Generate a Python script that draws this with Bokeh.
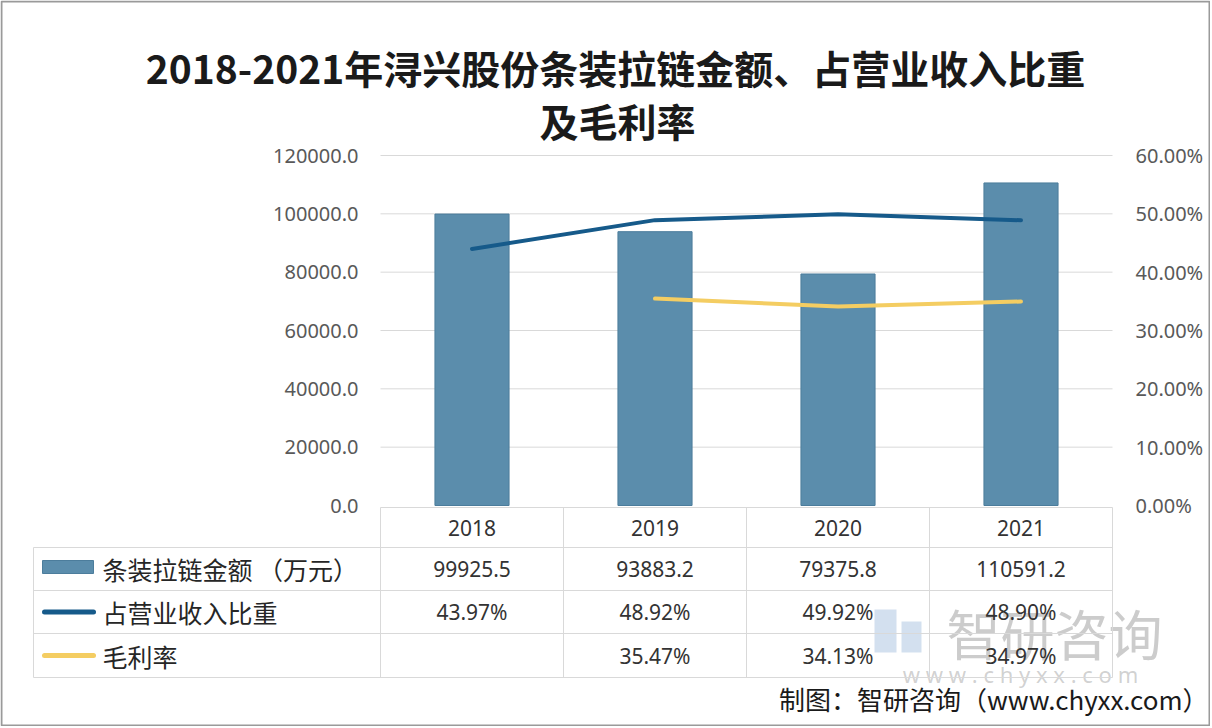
from bokeh.plotting import figure
from bokeh.models import (Range1d, LinearAxis, FixedTicker, CustomJSTickFormatter,
                          ColumnDataSource)
from bokeh.core.properties import value
from bokeh.embed import file_html
from bokeh.resources import INLINE

# ---------------- data ----------------
years = ["2018", "2019", "2020", "2021"]
amount = [99925.5, 93883.2, 79375.8, 110591.2]          # 条装拉链金额（万元）
share = [43.97, 48.92, 49.92, 48.90]                    # 占营业收入比重 (%)
margin = [float("nan"), 35.47, 34.13, 34.97]            # 毛利率 (%)
amount_txt = ["99925.5", "93883.2", "79375.8", "110591.2"]
share_txt = ["43.97%", "48.92%", "49.92%", "48.90%"]
margin_txt = ["", "35.47%", "34.13%", "34.97%"]
left_ticks = [0, 20000, 40000, 60000, 80000, 100000, 120000]
right_ticks = [0, 10, 20, 30, 40, 50, 60]
series_names = ["条装拉链金额 （万元）", "占营业收入比重", "毛利率"]
title_lines = ["2018-2021年浔兴股份条装拉链金额、占营业收入比重", "及毛利率"]
source_text = "制图：智研咨询（www.chyxx.com）"
watermark = "智研咨询"
watermark_url = "w w w . c h y x x . c o m"

# ---------------- layout (page pixels) ----------------
W, H = 1210, 726
T_L, T_R = 380, 1112            # category band (chart + table value columns)
FR_T, ZERO = 155, 505           # 120000 line, zero line
YMAX, PMAX = 120000, 60
CAT_PX = (T_R - T_L) / len(years)
UNIT = YMAX / (ZERO - FR_T)
PUNIT = PMAX / (ZERO - FR_T)


def lx(px):
    return (px - T_L) / CAT_PX


def ly(px):
    return (ZERO - px) * UNIT


BAR = "#5B8DAC"
BAR_LINE = "#4C7D9C"
BLUE = "#165A8A"
YELLOW = "#F4CD62"
GRID = "#D9D9D9"
TXT = "#333333"
CJK = "Noto Sans CJK SC"

xs = [i + 0.5 for i in range(len(years))]
src = ColumnDataSource(dict(x=xs, year=years, amount=amount, share=share, margin=margin,
                            a_txt=amount_txt, s_txt=share_txt, m_txt=margin_txt))

p = figure(width=W, height=H, output_backend="svg", toolbar_location=None,
           x_range=Range1d(lx(0), lx(W)), y_range=Range1d(ly(H), ly(0)),
           x_axis_location=None, y_axis_location="left", min_border=0,
           background_fill_color="white", border_fill_color="white")
p.outline_line_color = None
p.grid.visible = False
p.extra_y_ranges = {"pct": Range1d((ZERO - H) * PUNIT, ZERO * PUNIT)}

ax = p.yaxis[0]
ax.ticker = FixedTicker(ticks=left_ticks)
ax.formatter = CustomJSTickFormatter(code="return tick.toFixed(1);")
ax.fixed_location = 0
rax = LinearAxis(y_range_name="pct", ticker=FixedTicker(ticks=right_ticks),
                 formatter=CustomJSTickFormatter(code="return tick.toFixed(2) + '%';"),
                 fixed_location=len(years))
p.add_layout(rax, "right")
for a, so in ((ax, 22), (rax, 23)):
    a.axis_line_color = None
    a.major_tick_line_color = None
    a.minor_tick_line_color = None
    a.major_tick_in = 0
    a.major_tick_out = 0
    a.major_label_standoff = so
    a.major_label_text_font = "Noto Sans"
    a.major_label_text_font_size = "20px"
    a.major_label_text_color = "#595959"

# horizontal gridlines across the category band
grid_vals = left_ticks[1:]
p.segment(x0=[0] * len(grid_vals), x1=[len(years)] * len(grid_vals), y0=grid_vals, y1=grid_vals,
          line_color=GRID, line_width=1)

# ---------------- bars & lines ----------------
p.vbar(x="x", top="amount", bottom=0, width=0.405, source=src,
       fill_color=BAR, line_color=BAR_LINE, line_width=1)
p.line(x="x", y="share", source=src, y_range_name="pct", line_color=BLUE,
       line_width=4, line_cap="round", line_join="round")
p.line(x="x", y="margin", source=src, y_range_name="pct", line_color=YELLOW,
       line_width=4, line_cap="round", line_join="round")

# ---------------- title ----------------
p.text(x=[lx(615), lx(617)], y=[ly(66), ly(119)], text=title_lines, text_font=value(CJK),
       text_font_size="39px", text_font_style="bold", text_color="#1A1A1A",
       text_align="center", text_baseline="middle")

# ---------------- watermark (under the table) ----------------
p.quad(left=[lx(874), lx(901)], right=[lx(896), lx(921)], top=[ly(609), ly(621)],
       bottom=[ly(652), ly(652)], fill_color="#C4D5EA", fill_alpha=0.75, line_color=None)
p.text(x=[lx(1054)], y=[ly(632)], text=[watermark], text_font=value(CJK), text_font_size="54px",
       text_color="#9A9A9A", text_alpha=0.5, text_align="center", text_baseline="middle")
p.text(x=[lx(1020)], y=[ly(673)], text=[watermark_url], text_font=value("Noto Sans"),
       text_font_size="22px", text_color="#9A9A9A", text_alpha=0.45,
       text_align="center", text_baseline="middle")

# ---------------- data table ----------------
ROWS = [507, 547, 590, 633, 677]
bounds = list(range(len(years) + 1))
p.segment(x0=bounds, x1=bounds, y0=[ly(ROWS[0])] * len(bounds), y1=[ly(ROWS[-1])] * len(bounds),
          line_color=GRID, line_width=1)
p.segment(x0=[0], x1=[len(years)], y0=[ly(ROWS[0])], y1=[ly(ROWS[0])], line_color=GRID, line_width=1)
p.segment(x0=[lx(33)] * 4, x1=[len(years)] * 4, y0=[ly(r) for r in ROWS[1:]],
          y1=[ly(r) for r in ROWS[1:]], line_color=GRID, line_width=1)
p.segment(x0=[lx(33)], x1=[lx(33)], y0=[ly(ROWS[1])], y1=[ly(ROWS[-1])],
          line_color=GRID, line_width=1)

centers = [(ROWS[r] + ROWS[r + 1]) / 2 for r in range(4)]
for col, yc in zip(["year", "a_txt", "s_txt", "m_txt"], centers):
    p.text(x="x", y=ly(yc), text=col, source=src, text_font=value("Noto Sans"),
           text_font_size="21px", text_color=TXT, text_align="center", text_baseline="middle")

# legend keys + row labels
p.quad(left=[lx(42)], right=[lx(93)], top=[ly(560)], bottom=[ly(573)],
       fill_color=BAR, line_color=BAR_LINE, line_width=1)
p.segment(x0=[lx(44)], x1=[lx(93)], y0=[ly(centers[2])], y1=[ly(centers[2])],
          line_color=BLUE, line_width=5, line_cap="round")
p.segment(x0=[lx(44)], x1=[lx(93)], y0=[ly(centers[3])], y1=[ly(centers[3])],
          line_color=YELLOW, line_width=5, line_cap="round")
p.text(x=[lx(102)] * 3, y=[ly(c) for c in centers[1:]], text=series_names, text_font=value(CJK),
       text_font_size="25px", text_color="#262626", text_align="left", text_baseline="middle")

# ---------------- source ----------------
p.text(x=[lx(1208)], y=[ly(698)], text=[source_text], text_font=value(CJK),
       text_font_size="26px", text_color="#1A1A1A", text_align="right", text_baseline="middle")

# ---------------- picture frame ----------------
p.quad(left=[lx(1)], right=[lx(W - 1)], top=[ly(1)], bottom=[ly(H - 1)],
       fill_alpha=0, line_color="#9A9A9A", line_width=2)

open("out.html", "w").write(file_html(p, INLINE))
